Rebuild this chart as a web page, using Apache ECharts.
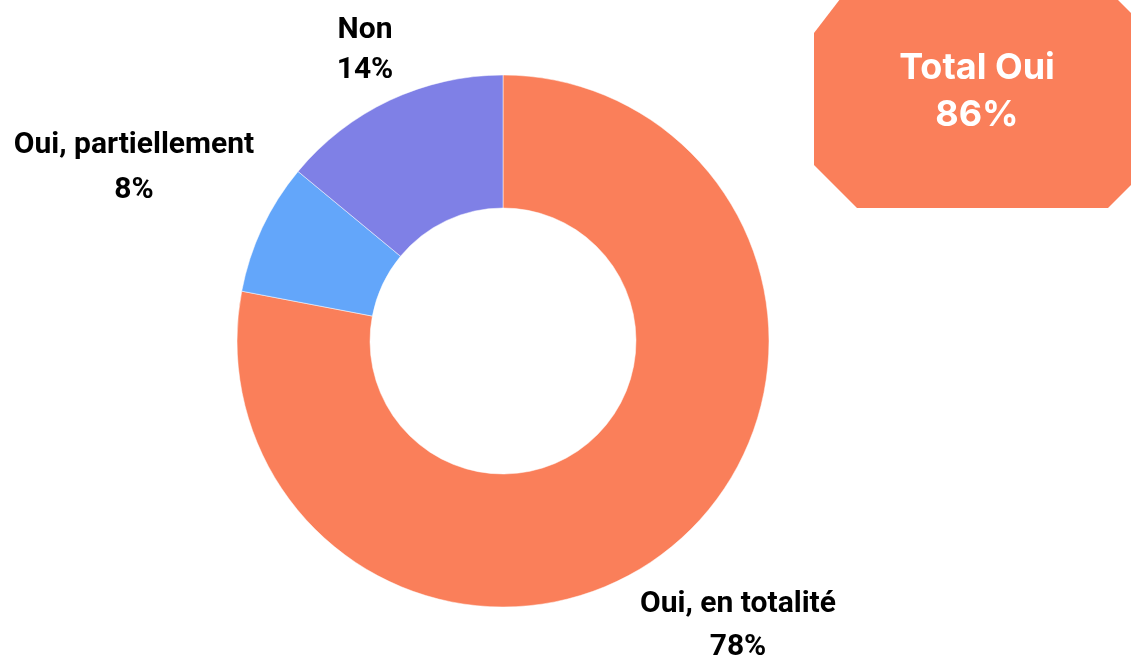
<!DOCTYPE html>
<html>
<head>
<meta charset="utf-8">
<script src="https://cdn.jsdelivr.net/npm/echarts@6/dist/echarts.min.js"></script>
<style>
  html, body { margin: 0; padding: 0; background: #fff; }
  #chart { width: 1131px; height: 661px; }
</style>
</head>
<body>
<div id="chart"></div>
<script>
  // data
  var categories = ['Oui, en totalité', 'Oui, partiellement', 'Non'];
  var values = [78, 8, 14];
  var colors = ['#FA7F5A', '#63A6FA', '#7F80E6'];
  var totalLabel = 'Total Oui';
  var totalValue = '86%';

  // label centres (x, y) and line heights for each slice
  var labelPos = [[738, 626], [134, 168], [365, 50]];
  var labelLineHeight = [43, 45, 40];

  var myChart = echarts.init(document.getElementById('chart'));

  var pieData = [];
  for (var i = 0; i < categories.length; i++) {
    pieData.push({
      name: categories[i],
      value: values[i],
      itemStyle: { color: colors[i] },
      label: { lineHeight: labelLineHeight[i] }
    });
  }

  var option = {
    backgroundColor: '#fff',
    animation: false,
    graphic: [
      {
        type: 'polygon',
        shape: {
          points: [[847, -10], [1108, -10], [1142, 24], [1142, 174], [1108, 208], [857, 208], [814, 165], [814, 33]]
        },
        style: { fill: '#FA7F5A' }
      },
      {
        type: 'text',
        x: 977,
        y: 92,
        style: {
          text: totalLabel + '\n' + totalValue,
          align: 'center',
          verticalAlign: 'middle',
          fill: '#fff',
          font: 'bold 36px Inter',
          lineHeight: 47
        },
        z: 10
      }
    ],
    series: [{
      type: 'pie',
      center: [503, 341],
      radius: [133, 266],
      startAngle: 90,
      clockwise: true,
      avoidLabelOverlap: false,
      itemStyle: { borderColor: '#fff', borderWidth: 0.5 },
      label: {
        show: true,
        position: 'outside',
        formatter: function (p) { return p.name + '\n' + p.value + '%'; },
        fontFamily: 'Roboto',
        fontWeight: 'bold',
        fontSize: 30,
        color: '#000',
        align: 'center'
      },
      labelLine: { show: false },
      labelLayout: function (params) {
        var p = labelPos[params.dataIndex];
        return { x: p[0], y: p[1], align: 'center', verticalAlign: 'middle' };
      },
      emphasis: { disabled: true },
      data: pieData
    }]
  };

  myChart.setOption(option);
</script>
</body>
</html>
